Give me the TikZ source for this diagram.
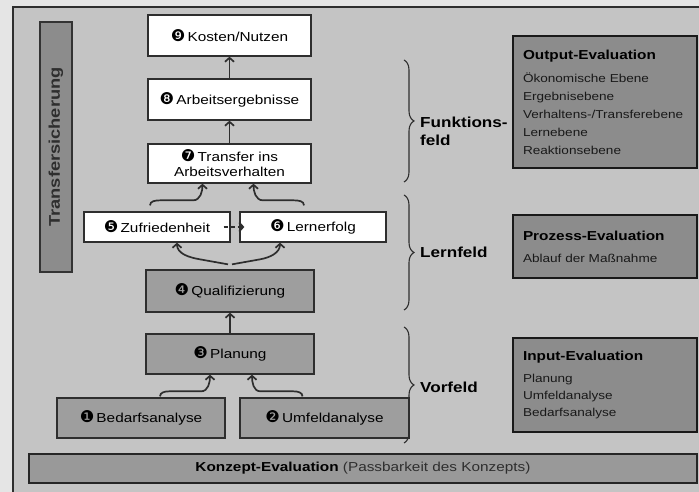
\documentclass[tikz,border=0pt]{standalone}
\usepackage{fontspec}
\setmainfont{Liberation Sans}[FakeStretch=1.18]
\newfontfamily\bulletfont{DejaVu Sans}[Scale=1.25]
\usetikzlibrary{decorations.pathreplacing,arrows.meta}
\newcommand{\nr}[1]{{\bulletfont #1}\,}
\definecolor{paper}{gray}{0.9}
\definecolor{panel}{gray}{0.77}
\definecolor{stepgray}{gray}{0.62}
\definecolor{evalgray}{gray}{0.55}
\definecolor{inkgray}{gray}{0.18}

\begin{document}
\begin{tikzpicture}[x=1pt,y=1pt,>={Straight Barb[length=4pt,width=9pt]}]
        \tikzstyle{whitebox}=[draw=inkgray,line width=1.3pt,fill=white,inner sep=0pt,font=\fontsize{13}{15}\selectfont,align=center]
        \tikzstyle{graybox}=[whitebox,fill=stepgray]
        \tikzstyle{evalbox}=[draw=black!90,line width=2.5pt,fill=evalgray,text width=164pt,inner xsep=10pt,align=left,font=\fontsize{11.5}{18}\selectfont,text=black!90]
        \tikzstyle{field}=[anchor=west,align=left,inner sep=0pt,font=\bfseries\fontsize{14.5}{18}\selectfont]
        \tikzstyle{edge}=[draw=inkgray,line width=1.7pt]
        \tikzstyle{curly}=[draw=inkgray,line width=1.1pt,decorate,decoration={brace,amplitude=10pt}]

        \clip (0,0) rectangle (699,492);
        \fill[paper] (0,0) rectangle (699,492);
        \filldraw[fill=panel,draw=inkgray,line width=1.6pt] (13,-20) rectangle (720,485);

        \begin{scope}

         \node [rotate=90,draw=black!80,line width=1.6pt,fill=gray!90,minimum width=250pt,minimum height=32pt,inner sep=0pt,
                text=black!82,font=\bfseries\fontsize{15.5}{17}\selectfont] (sicherung) at (56,345) {Transfersicherung};

         \node [whitebox,minimum width=163pt,minimum height=41pt] (kosten) at (229.5,456.5) {\nr{❾}Kosten/Nutzen};
         \node [whitebox,minimum width=163pt,minimum height=41pt] (arbeit) at (229.5,392.5) {\nr{❽}Arbeitsergebnisse};
         \node [whitebox,minimum width=163pt,minimum height=39pt] (transfer) at (229.5,328.5) {\nr{❼}Transfer ins\\Arbeitsverhalten};
         \node [whitebox,minimum width=146pt,minimum height=30pt] (zuf) at (157,265) {\nr{❺}Zufriedenheit};
         \node [whitebox,minimum width=146pt,minimum height=30pt] (lern) at (313,265) {\nr{❻}Lernerfolg};
         \node [graybox,minimum width=168pt,minimum height=42pt] (quali) at (230,201) {\nr{❹}Qualifizierung};
         \node [graybox,minimum width=168pt,minimum height=40pt] (planung) at (230,138) {\nr{❸}Planung};
         \node [graybox,minimum width=168pt,minimum height=40pt] (bedarf) at (141,74) {\nr{❶}Bedarfsanalyse};
         \node [graybox,minimum width=169pt,minimum height=40pt] (umfeld) at (324.5,74) {\nr{❷}Umfeldanalyse};

         \node [graybox,draw=black!85,line width=2.5pt,fill=gray!80,minimum width=668pt,minimum height=29pt] (konzept) at (363,23.5)
               {\textbf{Konzept-Evaluation} {\color{inkgray}(Passbarkeit des Konzepts)}};

         \node [evalbox,minimum height=132pt] (output) at (605,390)
               {{\color{black}\bfseries\fontsize{13}{18}\selectfont Output-Evaluation}\\[5pt]
                Ökonomische Ebene\\Ergebnisebene\\Verhaltens-/Transferebene\\Lernebene\\Reaktionsebene};
         \node [evalbox,minimum height=63pt] (prozess) at (605,245.5)
               {{\color{black}\bfseries\fontsize{13}{18}\selectfont Prozess-Evaluation}\\[4pt]
                Ablauf der Maßnahme};
         \node [evalbox,minimum height=94pt,font=\fontsize{11.5}{17}\selectfont] (input) at (605,107)
               {{\color{black}\bfseries\fontsize{13}{17}\selectfont Input-Evaluation}\\[5pt]
                Planung\\Umfeldanalyse\\Bedarfsanalyse};

         \draw [curly] (404,432) -- (404,310);
         \draw [curly] (404,297) -- (404,182);
         \draw [curly] (404,165) -- (404,49);
         \node [field] (funktion) at (420,361) {Funktions-\\feld};
         \node [field] (lernfeld) at (420,240) {Lernfeld};
         \node [field] (vorfeld) at (420,105) {Vorfeld};

         \draw [edge,->] (arbeit) -- (kosten);
         \draw [edge,->] (transfer) -- (arbeit);
         \draw [edge,->] (planung) -- (quali);
         \draw [edge,->,dash pattern=on 4pt off 3pt] ([xshift=-7pt]zuf.east) -- ([xshift=5pt]lern.west);

         \draw [edge,->] ([shift={(-7,6)}]zuf.north) to[out=90,in=180] ([shift={(3,11)}]zuf.north)
               -- ([shift={(36,11)}]zuf.north) to[out=0,in=-90] ([xshift=-27pt]transfer.south);
         \draw [edge,->] ([shift={(-9,6)}]lern.north) to[out=90,in=0] ([shift={(-19,11)}]lern.north)
               -- ([shift={(-50,11)}]lern.north) to[out=180,in=-90] ([xshift=24pt]transfer.south);

         \draw [edge,->] ([shift={(-2,5)}]quali.north) -- ([shift={(-30,10)}]quali.north)
               to[out=170,in=-90] ([xshift=20pt]zuf.south);
         \draw [edge,->] ([shift={(2,5)}]quali.north) -- ([shift={(30,10)}]quali.north)
               to[out=10,in=-90] ([xshift=-33pt]lern.south);

         \draw [edge,->] ([shift={(19,1)}]bedarf.north) to[out=90,in=180] ([shift={(28,6)}]bedarf.north)
               -- ([shift={(60,6)}]bedarf.north) to[out=0,in=-90] ([xshift=-20pt]planung.south);
         \draw [edge,->] ([shift={(-22,1)}]umfeld.north) to[out=90,in=0] ([shift={(-31,6)}]umfeld.north)
               -- ([shift={(-64,6)}]umfeld.north) to[out=180,in=-90] ([xshift=22pt]planung.south);

        \end{scope}
\end{tikzpicture}
\end{document}
